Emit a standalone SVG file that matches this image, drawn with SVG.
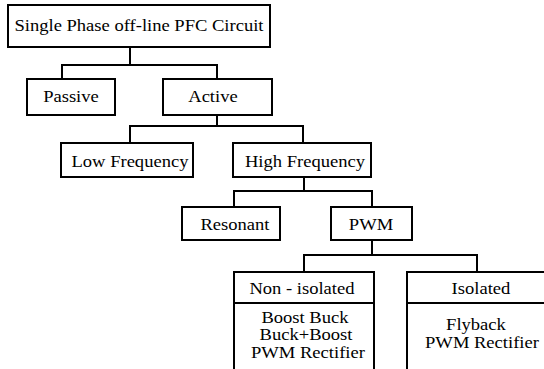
<svg xmlns="http://www.w3.org/2000/svg" width="544" height="369" viewBox="0 0 544 369">
<style>
rect{fill:#fff;stroke:#000;stroke-width:2}
line,path{fill:none;stroke:#000;stroke-width:2}
text{font-family:"Liberation Serif","Times New Roman",serif;font-size:16px;fill:#000;text-anchor:middle;transform-box:fill-box;transform-origin:center;transform:scaleX(1.16)}
</style>
<rect x="0" y="0" width="544" height="369" style="stroke:none"/>
<g id="connectors">
<path d="M130 47V65M62 79V65H217V79"/>
<path d="M217 115V126M130 143V126H303V143"/>
<path d="M304 177V191M234 207V191H372V207"/>
<path d="M372 240V255M304 272V255H477V272"/>
</g>
<g id="root"><rect x="8" y="5" width="262" height="42"/><text x="139" y="31">Single Phase off-line PFC Circuit</text></g>
<g id="passive"><rect x="27" y="79" width="88" height="36"/><text x="71" y="102">Passive</text></g>
<g id="active"><rect x="163" y="79" width="109" height="36"/><text x="213" y="102">Active</text></g>
<g id="lowfreq"><rect x="61" y="143" width="132" height="34"/><text x="130" y="167">Low Frequency</text></g>
<g id="highfreq"><rect x="233" y="143" width="138" height="34"/><text x="305" y="167">High Frequency</text></g>
<g id="resonant"><rect x="182" y="207" width="98" height="33"/><text x="235" y="230">Resonant</text></g>
<g id="pwm"><rect x="331" y="207" width="81" height="33"/><text x="371" y="230">PWM</text></g>
<g id="nonisolated"><rect x="234" y="272" width="140" height="110"/><line x1="234" y1="303" x2="374" y2="303"/><text x="302" y="294">Non - isolated</text><text x="305" y="323">Boost Buck</text><text x="306" y="340">Buck+Boost</text><text x="308" y="358">PWM Rectifier</text></g>
<g id="isolated"><rect x="407" y="272" width="150" height="110"/><line x1="407" y1="303" x2="557" y2="303"/><text x="481" y="294">Isolated</text><text x="476" y="330">Flyback</text><text x="482" y="348">PWM Rectifier</text></g>
</svg>
